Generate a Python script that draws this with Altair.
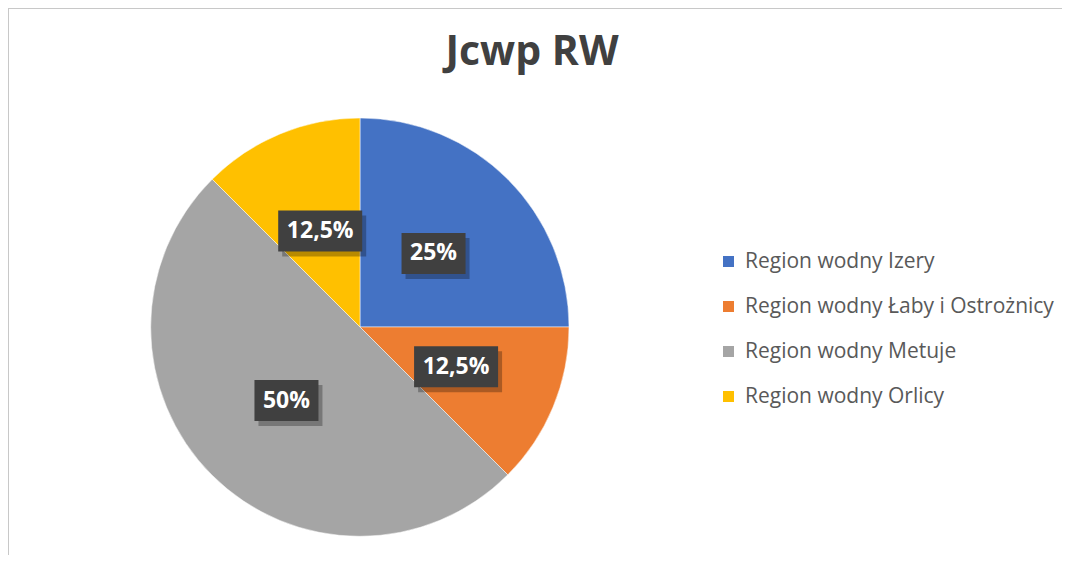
import altair as alt
import pandas as pd

title_text = "Jcwp RW"
regions = [
    "Region wodny Izery",
    "Region wodny Łaby i Ostrożnicy",
    "Region wodny Metuje",
    "Region wodny Orlicy",
]
values = [25, 12.5, 50, 12.5]
colors = ["#4472C4", "#ED7D31", "#A5A5A5", "#FFC000"]
labels = [f"{v:g}".replace(".", ",") + "%" for v in values]

df = pd.DataFrame({"region": regions, "value": values, "label": labels, "idx": list(range(len(regions)))})

W, H = 1054, 547
CX, CY, R, LR = 352, 319, 209, 104
FONT = "Open Sans"

base = alt.Chart(df)

pie = base.mark_arc(outerRadius=R, stroke="white", strokeWidth=0.5).encode(
    theta=alt.Theta("value:Q", stack=True),
    order=alt.Order("idx:Q"),
    color=alt.Color(
        "region:N",
        scale=alt.Scale(domain=regions, range=colors),
        legend=alt.Legend(
            title=None,
            orient="none",
            legendX=710,
            legendY=243,
            symbolType="square",
            symbolSize=121,
            symbolStrokeWidth=0,
            labelFontSize=21,
            labelFont=FONT,
            labelColor="#595959",
            labelOffset=6,
            rowPadding=23,
            padding=0,
            labelLimit=400,
        ),
    ),
    x=alt.value(CX),
    y=alt.value(CY),
)

pos = base.transform_window(
    cum="sum(value)", sort=[alt.SortField("idx")], frame=[None, 0]
).transform_joinaggregate(total="sum(value)").transform_calculate(
    ang="(datum.cum - datum.value/2) / datum.total * 2 * PI",
).transform_calculate(
    lx=f"{CX} + {LR} * sin(datum.ang)",
    ly=f"{CY} - {LR} * cos(datum.ang)",
    bw="34 + 10 * length(datum.label)",
).transform_calculate(
    x1="datum.lx - datum.bw/2",
    x2="datum.lx + datum.bw/2",
    y1="datum.ly - 20.5",
    y2="datum.ly + 20.5",
    sx1="datum.lx - datum.bw/2 + 4",
    sx2="datum.lx + datum.bw/2 + 4",
    sy1="datum.ly - 20.5 + 5",
    sy2="datum.ly + 20.5 + 5",
)

shadow = pos.mark_rect(color="black", opacity=0.28).encode(
    x=alt.X("sx1:Q", scale=None), x2="sx2:Q",
    y=alt.Y("sy1:Q", scale=None), y2="sy2:Q",
)
box = pos.mark_rect(color="#404040").encode(
    x=alt.X("x1:Q", scale=None), x2="x2:Q",
    y=alt.Y("y1:Q", scale=None), y2="y2:Q",
)
txt = pos.mark_text(color="white", fontSize=23, fontWeight="bold", font=FONT,
                    align="center", baseline="middle").encode(
    x=alt.X("lx:Q", scale=None),
    y=alt.Y("ly:Q", scale=None),
    text="label:N",
)

title = alt.Chart(pd.DataFrame({"t": [title_text]})).mark_text(
    fontSize=41, fontWeight="bold", font=FONT, color="#404040",
    align="center", baseline="middle",
).encode(text="t:N", x=alt.value(524), y=alt.value(45))

border = alt.Chart(pd.DataFrame({"a": [0]})).mark_rule(color="#c8c8c8", strokeWidth=2)
left_line = border.encode(x=alt.value(0), y=alt.value(0), y2=alt.value(H))
top_line = border.encode(x=alt.value(0), x2=alt.value(W), y=alt.value(0))

chart = alt.layer(pie, shadow, box, txt, title, left_line, top_line).properties(
    width=W, height=H, autosize=alt.AutoSizeParams(type="none"), padding=0
).configure_view(stroke=None).configure(background="white")

chart.save("out.html", embed_options={"renderer": "svg", "actions": False})
